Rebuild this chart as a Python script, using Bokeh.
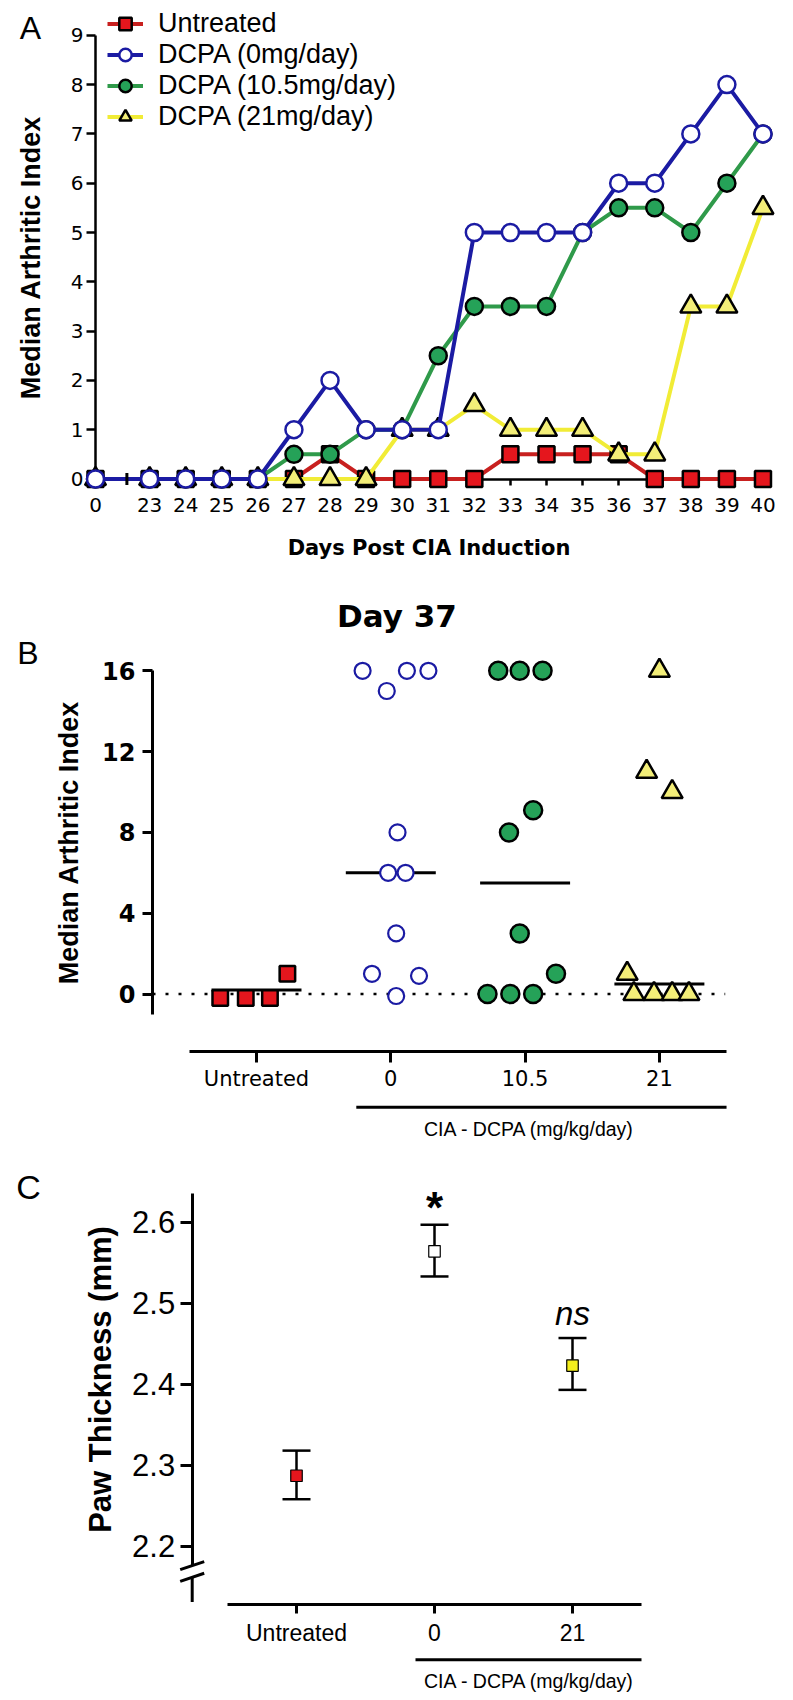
from bokeh.plotting import figure
from bokeh.models import Range1d, FixedTicker, Legend, LegendItem, Label
from bokeh.layouts import column
from bokeh.embed import file_html
from bokeh.resources import INLINE
from bokeh.core.properties import value

# ---------------- data ----------------
# Panel A: median arthritic index per day
days = [0, 23, 24, 25, 26, 27, 28, 29, 30, 31, 32, 33, 34, 35, 36, 37, 38, 39, 40]
untreated = [0, 0, 0, 0, 0, 0, 0.5, 0, 0, 0, 0, 0.5, 0.5, 0.5, 0.5, 0, 0, 0, 0]
dcpa_0 = [0, 0, 0, 0, 0, 1, 2, 1, 1, 1, 5, 5, 5, 5, 6, 6, 7, 8, 7]
dcpa_10_5 = [0, 0, 0, 0, 0, 0.5, 0.5, 1, 1, 2.5, 3.5, 3.5, 3.5, 5, 5.5, 5.5, 5, 6, 7]
dcpa_21 = [0, 0, 0, 0, 0, 0, 0, 0, 1, 1, 1.5, 1, 1, 1, 0.5, 0.5, 3.5, 3.5, 5.5]
series_labels = ["Untreated", "DCPA (0mg/day)", "DCPA (10.5mg/day)", "DCPA (21mg/day)"]
a_y_ticks = [0, 1, 2, 3, 4, 5, 6, 7, 8, 9]

# Panel B: individual scores at day 37 (value, horizontal jitter in category units)
b_categories = ["Untreated", "0", "10.5", "21"]
b_untreated = [-0.2, -0.2, -0.2, 1.0]
b_untreated_jit = [-0.27, -0.08, 0.10, 0.23]
b_dcpa0 = [16, 15, 16, 16, 8, 6, 6, 3, 1.0, 0.9, -0.1]
b_dcpa0_jit = [-0.21, -0.03, 0.12, 0.28, 0.05, -0.02, 0.11, 0.04, -0.14, 0.21, 0.04]
b_dcpa105 = [16, 16, 16, 9.1, 8, 3, 1.0, 0, 0, 0]
b_dcpa105_jit = [-0.20, -0.04, 0.13, 0.06, -0.12, -0.04, 0.23, -0.28, -0.11, 0.06]
b_dcpa21 = [16, 11, 10, 1.0, 0, 0, 0, 0]
b_dcpa21_jit = [0.0, -0.095, 0.095, -0.24, -0.19, -0.04, 0.095, 0.22]
b_medians = [0.2, 6, 5.5, 0.5]
b_y_ticks = [0, 4, 8, 12, 16]
group_title = "CIA - DCPA (mg/kg/day)"

# Panel C: paw thickness mean +/- error
c_categories = ["Untreated", "0", "21"]
c_mean = [2.287, 2.564, 2.423]
c_upper = [2.318, 2.597, 2.457]
c_lower = [2.258, 2.533, 2.393]
c_y_ticks = [2.2, 2.3, 2.4, 2.5, 2.6]

# ---------------- style ----------------
RED_LINE = "#c8201f"
RED_FILL = "#e5161d"
BLUE = "#1b1ba3"
GREEN_LINE = "#2f9a4a"
GREEN_FILL = "#25a258"
YELLOW_LINE = "#f1ec36"
YELLOW_FILL = "#f3ee78"
C_YELLOW = "#f4ef1c"
SANS = "Liberation Sans"
DEJAVU = "DejaVu Sans"
W = 793
PAGE = 0  # Bokeh's standalone page has no body margin


def clean(p):
    p.outline_line_color = None
    p.grid.visible = False
    p.background_fill_color = "white"
    p.border_fill_color = "white"


def style_axis(ax, tick_out, line_w, font, size, standoff, bold=False):
    ax.axis_line_width = line_w
    ax.axis_line_color = "black"
    ax.major_tick_line_color = "black"
    ax.major_tick_line_width = line_w
    ax.major_tick_out = tick_out
    ax.major_tick_in = 0
    ax.minor_tick_line_color = None
    ax.major_label_standoff = standoff
    ax.major_label_text_font = font
    ax.major_label_text_font_size = size
    ax.major_label_text_color = "black"
    ax.axis_label_text_color = "black"
    if bold:
        ax.major_label_text_font_style = "bold"


# ================= Panel A =================
A_TOP, A_H = PAGE, 585
a_px_day, a_px_unit = 36.08, 49.3
a_day0_pos = 21.5      # day 0 drawn left of the axis break
a_break_pos = 22.37
a_pos = [d if d != 0 else a_day0_pos for d in days]
a_axis_px, a_zero_py = 95, 478.5
a_x0 = a_day0_pos - (a_axis_px - PAGE) / a_px_day
a_x1 = a_x0 + W / a_px_day
a_y1 = (a_zero_py - A_TOP) / a_px_unit
a_y0 = a_y1 - A_H / a_px_unit

pa = figure(width=W, height=A_H, x_range=Range1d(a_x0, a_x1), y_range=Range1d(a_y0, a_y1),
            min_border=0, output_backend="svg", toolbar_location=None)
clean(pa)

xa = pa.xaxis[0]
xa.fixed_location = 0
xa.level = "underlay"
xa.bounds = (a_day0_pos, 40)
xa.ticker = FixedTicker(ticks=a_pos)
xa.major_label_overrides = {a_day0_pos: "0"}
style_axis(xa, 6, 2.5, DEJAVU, "20px", 13)
xa.axis_label = "Days Post CIA Induction"
xa.axis_label_text_font = DEJAVU
xa.axis_label_text_font_style = "bold"
xa.axis_label_text_font_size = "21px"
xa.axis_label_standoff = 20

ya = pa.yaxis[0]
ya.fixed_location = a_day0_pos
ya.level = "underlay"
ya.bounds = (0, 9)
ya.ticker = FixedTicker(ticks=a_y_ticks)
style_axis(ya, 9, 2.5, DEJAVU, "20px", 3)
ya.axis_label = "Median Arthritic Index"
ya.axis_label_text_font = SANS
ya.axis_label_text_font_style = "bold"
ya.axis_label_text_font_size = "27px"
ya.axis_label_standoff = 22

r_line = pa.line(a_pos, untreated, line_color=RED_LINE, line_width=4)
r_pts = pa.scatter(a_pos, untreated, marker="square", size=16, fill_color=RED_FILL,
                   line_color="black", line_width=2.5)
y_line = pa.line(a_pos, dcpa_21, line_color=YELLOW_LINE, line_width=4)
y_pts = pa.scatter(a_pos, dcpa_21, marker="triangle", size=21, fill_color=YELLOW_FILL,
                   line_color="black", line_width=2.5)
g_line = pa.line(a_pos, dcpa_10_5, line_color=GREEN_LINE, line_width=4)
g_pts = pa.scatter(a_pos, dcpa_10_5, marker="circle", size=17, fill_color=GREEN_FILL,
                   line_color="black", line_width=2.5)
b_line = pa.line(a_pos, dcpa_0, line_color=BLUE, line_width=4)
b_pts = pa.scatter(a_pos, dcpa_0, marker="circle", size=17, fill_color="white",
                   line_color=BLUE, line_width=2.5)
# axis-break tick on the x axis
pa.segment(x0=[a_break_pos], y0=[-0.12], x1=[a_break_pos], y1=[0.12], line_color="black", line_width=3)

leg_pitch = 31
leg_top = 23.3 - leg_pitch / 2
leg_bottom = leg_top + 4 * leg_pitch
legend = Legend(items=[
    LegendItem(label=series_labels[0], renderers=[r_line, r_pts]),
    LegendItem(label=series_labels[1], renderers=[b_line, b_pts]),
    LegendItem(label=series_labels[2], renderers=[g_line, g_pts]),
    LegendItem(label=series_labels[3], renderers=[y_line, y_pts]),
], location=(107 - PAGE, A_TOP + A_H - leg_bottom), orientation="vertical",
    glyph_width=36, glyph_height=leg_pitch, label_height=leg_pitch,
    label_standoff=15, spacing=0, padding=0, margin=0, border_line_color=None,
    background_fill_alpha=0, label_text_font=SANS, label_text_font_size="27px",
    label_text_color="black")
pa.add_layout(legend)

pa.add_layout(Label(x=a_day0_pos + (30 - a_axis_px) / a_px_day, y=(a_zero_py - 27) / a_px_unit,
                    text="A", text_align="center", text_baseline="middle", text_font=SANS,
                    text_font_size="32px", text_color="black"))

# ================= Panel B =================
B_TOP, B_H = A_TOP + A_H, 562
b_title_h = 50
b_px_cat, b_px_unit = 134.3, 20.2
b_cat1_px, b_zero_py = 256, 993.5
b_x0 = 1 - (b_cat1_px - PAGE) / b_px_cat
b_x1 = b_x0 + W / b_px_cat
b_y1 = (b_zero_py - (B_TOP + b_title_h)) / b_px_unit
b_y0 = b_y1 - (B_H - b_title_h) / b_px_unit
b_axis_x = 1 + (152 - b_cat1_px) / b_px_cat
b_axis_y = -(1050.7 - b_zero_py) / b_px_unit

pb = figure(width=W, height=B_H, x_range=Range1d(b_x0, b_x1), y_range=Range1d(b_y0, b_y1),
            min_border=0, min_border_top=b_title_h, output_backend="svg",
            toolbar_location=None, title="Day 37")
clean(pb)
pb.title.align = "center"
pb.title.offset = 438.5 - W / 2
pb.title.text_font = DEJAVU
pb.title.text_font_style = "bold"
pb.title.text_font_size = "31px"
pb.title.text_color = "black"
pb.title.standoff = 4

xb = pb.xaxis[0]
xb.fixed_location = b_axis_y
xb.bounds = (0.5, 4.5)
xb.ticker = FixedTicker(ticks=[1, 2, 3, 4])
xb.major_label_overrides = {i + 1: c for i, c in enumerate(b_categories)}
style_axis(xb, 11, 3, DEJAVU, "21px", 5)

yb = pb.yaxis[0]
yb.fixed_location = b_axis_x
yb.bounds = (-1, 16)
yb.ticker = FixedTicker(ticks=b_y_ticks)
style_axis(yb, 10, 3, DEJAVU, "24px", 7, bold=True)
yb.axis_label = "Median Arthritic Index"
yb.axis_label_text_font = SANS
yb.axis_label_text_font_style = "bold"
yb.axis_label_text_font_size = "27px"
yb.axis_label_standoff = 15

# dotted zero reference line
pb.segment(x0=[b_axis_x], y0=[0], x1=[4.49], y1=[0], line_color="black", line_width=2.7,
           line_dash="3 10")

half_w = 0.335
pb.segment(x0=[i + 1 - half_w for i in range(4)], y0=b_medians,
           x1=[i + 1 + half_w for i in range(4)], y1=b_medians, line_color="black", line_width=3)

pb.scatter([1 + j for j in b_untreated_jit], b_untreated, marker="square", size=15.5,
           fill_color=RED_FILL, line_color="black", line_width=2.5)
pb.scatter([2 + j for j in b_dcpa0_jit], b_dcpa0, marker="circle", size=16,
           fill_color="white", line_color=BLUE, line_width=2.2)
pb.scatter([3 + j for j in b_dcpa105_jit], b_dcpa105, marker="circle", size=18,
           fill_color=GREEN_FILL, line_color="black", line_width=2.5)
pb.scatter([4 + j for j in b_dcpa21_jit], b_dcpa21, marker="triangle", size=21,
           fill_color=YELLOW_FILL, line_color="black", line_width=2.5)

# group bracket "CIA - DCPA"
b_brk_y = -(1106.7 - b_zero_py) / b_px_unit
b_brk_x0 = 1 + (355.8 - b_cat1_px) / b_px_cat
pb.segment(x0=[b_brk_x0], y0=[b_brk_y], x1=[4.5], y1=[b_brk_y], line_color="black", line_width=3)
pb.text(x=[1 + (529 - b_cat1_px) / b_px_cat], y=[-(1128.8 - b_zero_py) / b_px_unit], text=[group_title],
        text_font=value(SANS), text_font_size="19.5px", text_align="center", text_baseline="middle",
        text_color="black")

pb.add_layout(Label(x=1 + (27.5 - b_cat1_px) / b_px_cat, y=(b_zero_py - 652.5) / b_px_unit, text="B",
                    text_align="center", text_baseline="middle", text_font=SANS,
                    text_font_size="32px", text_color="black"))

# ================= Panel C =================
C_TOP = B_TOP + B_H
C_H = 1700 - C_TOP
c_px_cat, c_px_unit = 138, 810
c_cat1_px, c_ref_py = 296, 1221.7   # 2.6 sits at c_ref_py
c_x0 = 1 - (c_cat1_px - PAGE) / c_px_cat
c_x1 = c_x0 + W / c_px_cat
c_y1 = 2.6 + (c_ref_py - C_TOP) / c_px_unit
c_y0 = c_y1 - C_H / c_px_unit
c_axis_x = 1 + (191.7 - c_cat1_px) / c_px_cat
c_axis_y = 2.6 - (1604 - c_ref_py) / c_px_unit

pc = figure(width=W, height=C_H, x_range=Range1d(c_x0, c_x1), y_range=Range1d(c_y0, c_y1),
            min_border=0, output_backend="svg", toolbar_location=None)
clean(pc)

xc = pc.xaxis[0]
xc.fixed_location = c_axis_y
xc.bounds = (0.5, 3.5)
xc.ticker = FixedTicker(ticks=[1, 2, 3])
xc.major_label_overrides = {i + 1: c for i, c in enumerate(c_categories)}
style_axis(xc, 9, 3, SANS, "23px", 6)

yc = pc.yaxis[0]
yc.fixed_location = c_axis_x
yc.bounds = (2.176, 2.635)
yc.ticker = FixedTicker(ticks=c_y_ticks)
style_axis(yc, 12, 3, SANS, "31px", 5)
yc.axis_label = "Paw Thickness (mm)"
yc.axis_label_text_font = SANS
yc.axis_label_text_font_style = "bold"
yc.axis_label_text_font_size = "31px"
yc.axis_label_standoff = 11

# axis break on the y axis
brk_y = [2.176, 2.1616]
brk_dx, brk_dy = 0.087, 0.005
pc.segment(x0=[c_axis_x - brk_dx] * 2, y0=[b - brk_dy for b in brk_y],
           x1=[c_axis_x + brk_dx] * 2, y1=[b + brk_dy for b in brk_y], line_color="black", line_width=3)
pc.segment(x0=[c_axis_x], y0=[brk_y[1]], x1=[c_axis_x], y1=[c_axis_y + 0.003], line_color="black",
           line_width=3)

c_x = [1, 2, 3]
pc.segment(x0=c_x, y0=c_lower, x1=c_x, y1=c_upper, line_color="black", line_width=2.5)
pc.scatter(c_x, c_upper, marker="dash", size=28, line_color="black", line_width=2.5)
pc.scatter(c_x, c_lower, marker="dash", size=28, line_color="black", line_width=2.5)
pc.scatter(c_x, c_mean, marker="square", size=11.5, fill_color=[RED_FILL, "white", C_YELLOW],
           line_color="black", line_width=1.2)
pc.text(x=[2], y=[c_upper[1] + 0.0215], text=["*"], text_font=value(SANS), text_font_style="bold",
        text_font_size="44px", text_align="center", text_baseline="alphabetic", text_color="black")
pc.text(x=[3], y=[c_upper[2] + 0.030], text=["ns"], text_font=value(SANS), text_font_style="italic",
        text_font_size="33px", text_align="center", text_baseline="alphabetic", text_color="black")

c_brk_y = 2.6 - (1659.2 - c_ref_py) / c_px_unit
pc.segment(x0=[1 + (415 - c_cat1_px) / c_px_cat], y0=[c_brk_y], x1=[3.5], y1=[c_brk_y],
           line_color="black", line_width=3)
pc.text(x=[1 + (529 - c_cat1_px) / c_px_cat], y=[2.6 - (1680.5 - c_ref_py) / c_px_unit], text=[group_title],
        text_font=value(SANS), text_font_size="19.5px", text_align="center", text_baseline="middle",
        text_color="black")

pc.add_layout(Label(x=1 + (28 - c_cat1_px) / c_px_cat, y=2.6 + (c_ref_py - 1186) / c_px_unit, text="C",
                    text_align="center", text_baseline="middle", text_font=SANS,
                    text_font_size="34px", text_color="black"))

layout = column(pa, pb, pc, spacing=0)
open("out.html", "w").write(file_html(layout, INLINE))
